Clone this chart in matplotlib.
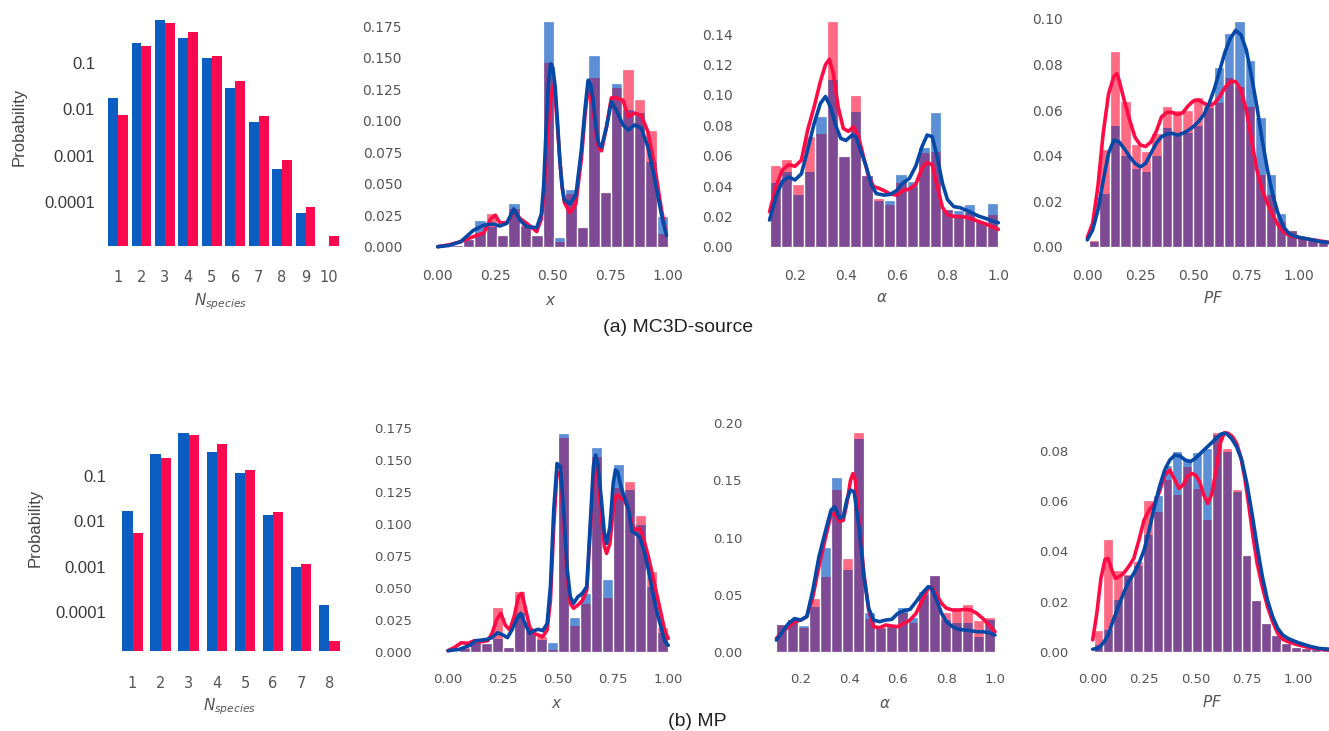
import numpy as np
import matplotlib
matplotlib.use("Agg")
import matplotlib.pyplot as plt
from matplotlib.ticker import NullLocator

nan = np.nan

# ---- N_species probabilities (log scale bars) ----
top_n = [1, 2, 3, 4, 5, 6, 7, 8, 9, 10]
top_n_blue = [0.0173, 0.275, 0.85, 0.342, 0.126, 0.0284, 0.0054, 0.00051, 5.7e-5, nan]
top_n_red = [0.0076, 0.236, 0.72, 0.474, 0.1415, 0.0415, 0.0072, 0.0008, 7.9e-5, 1.86e-5]

bot_n = [1, 2, 3, 4, 5, 6, 7, 8]
bot_n_blue = [0.0169, 0.306, 0.90, 0.344, 0.115, 0.0138, 0.0010, 0.00014]
bot_n_red = [0.0056, 0.254, 0.80, 0.51, 0.136, 0.016, 0.00112, 2.3e-5]

# ---- histograms ----
top_x_edges = np.linspace(0.01, 1.0, 21)
top_x_blue = [0, 0.001, 0.005, 0.021, 0.016, 0.009, 0.035, 0.016, 0.009, 0.179, 0.008, 0.046,
              0.016, 0.152, 0.0436, 0.130, 0.108, 0.106, 0.067, 0.024]
top_x_red = [0, 0.001, 0.006, 0.011, 0.027, 0.009, 0.030, 0.018, 0.009, 0.146, 0.004, 0.042,
             0.016, 0.134, 0.0436, 0.126, 0.141, 0.117, 0.0925, 0.010]

top_a_edges = np.linspace(0.1, 1.0, 21)
top_a_blue = [0.042, 0.049, 0.034, 0.049, 0.086, 0.110, 0.059, 0.089, 0.047, 0.030, 0.031, 0.048,
              0.043, 0.066, 0.0886, 0.025, 0.024, 0.028, 0.017, 0.0286]
top_a_red = [0.054, 0.0576, 0.041, 0.073, 0.074, 0.149, 0.060, 0.100, 0.047, 0.032, 0.0275, 0.042,
             0.0395, 0.0615, 0.0626, 0.024, 0.020, 0.022, 0.0154, 0.021]

top_pf_edges = np.linspace(0.008, 1.233, 26)
top_pf_blue = [0.002, 0.023, 0.053, 0.040, 0.034, 0.033, 0.040, 0.052, 0.049, 0.050, 0.053, 0.061,
               0.079, 0.094, 0.099, 0.082, 0.057, 0.032, 0.015, 0.0073, 0.0044, 0.003, 0.0022,
               0.002, 0.0015]
top_pf_red = [0.003, 0.043, 0.086, 0.064, 0.045, 0.042, 0.050, 0.062, 0.060, 0.060, 0.0656, 0.063,
              0.063, 0.074, 0.070, 0.0615, 0.0315, 0.0227, 0.011, 0.007, 0.0044, 0.003, 0.0022,
              0.002, 0.0015]

bot_x_edges = np.linspace(0.0, 1.0, 21)
bot_x_blue = [0, 0.002, 0.0065, 0.0065, 0.010, 0.004, 0.030, 0.017, 0.009, 0.0073, 0.1706, 0.0268,
              0.046, 0.160, 0.057, 0.147, 0.1263, 0.099, 0.0508, 0.0148]
bot_x_red = [0, 0.004, 0.009, 0.007, 0.0346, 0.004, 0.0477, 0.018, 0.012, 0.001, 0.1667, 0.020,
             0.037, 0.152, 0.0417, 0.1276, 0.1336, 0.1068, 0.0633, 0.0195]

bot_a_edges = np.linspace(0.1, 1.0, 21)
bot_a_blue = [0.024, 0.029, 0.0234, 0.039, 0.092, 0.153, 0.0715, 0.186, 0.0345, 0.022, 0.0225,
              0.0388, 0.0307, 0.053, 0.067, 0.0277, 0.0254, 0.0248, 0.013, 0.0277]
bot_a_red = [0.024, 0.028, 0.021, 0.0467, 0.0657, 0.1416, 0.0818, 0.192, 0.029, 0.022, 0.0225,
             0.0336, 0.0248, 0.050, 0.067, 0.035, 0.0365, 0.0418, 0.0277, 0.0307]

bot_pf_edges = np.linspace(0.004, 1.156, 25)
bot_pf_blue = [0.0027, 0.0086, 0.0206, 0.030, 0.034, 0.0465, 0.0625, 0.0744, 0.080, 0.077, 0.0797,
               0.081, 0.0864, 0.0797, 0.0638, 0.0385, 0.0206, 0.0113, 0.0066, 0.0033, 0.002,
               0.0013, 0.001, 0.0007]
bot_pf_red = [0.0086, 0.045, 0.0326, 0.031, 0.036, 0.0605, 0.0558, 0.0684, 0.0625, 0.0738, 0.0647,
              0.0525, 0.0877, 0.081, 0.065, 0.0385, 0.0206, 0.0113, 0.0066, 0.0033, 0.002,
              0.0013, 0.001, 0.0007]

# ---- KDE curves ----
top_x_kb_x = [0, 0.05, 0.1, 0.155, 0.2, 0.24, 0.27, 0.30, 0.33, 0.357, 0.386, 0.43, 0.45, 0.46, 0.47,
              0.48, 0.49, 0.50, 0.51, 0.52, 0.53, 0.54, 0.55, 0.574, 0.60, 0.624, 0.64, 0.653, 0.665,
              0.675, 0.69, 0.70, 0.711, 0.733, 0.754, 0.776, 0.805, 0.827, 0.855, 0.884, 0.913,
              0.942, 0.971, 0.993]
top_x_kb_y = [0, 0.001, 0.004, 0.013, 0.017, 0.018, 0.0164, 0.0185, 0.030, 0.021, 0.016, 0.015,
              0.026, 0.048, 0.09, 0.128, 0.145, 0.142, 0.127, 0.10, 0.069, 0.048, 0.037, 0.034,
              0.041, 0.077, 0.11, 0.132, 0.128, 0.116, 0.09, 0.081, 0.079, 0.095, 0.115, 0.108,
              0.0965, 0.0925, 0.0965, 0.094, 0.079, 0.054, 0.026, 0.009]
top_x_kr_x = [0, 0.05, 0.1, 0.155, 0.2, 0.23, 0.25, 0.27, 0.30, 0.33, 0.36, 0.39, 0.43, 0.45, 0.46,
              0.47, 0.48, 0.49, 0.50, 0.51, 0.52, 0.53, 0.54, 0.55, 0.574, 0.60, 0.624, 0.64, 0.653,
              0.665, 0.675, 0.69, 0.70, 0.711, 0.733, 0.754, 0.776, 0.805, 0.827, 0.855, 0.884,
              0.913, 0.942, 0.971, 0.993]
top_x_kr_y = [0, 0.0015, 0.004, 0.008, 0.011, 0.022, 0.025, 0.019, 0.019, 0.028, 0.022, 0.018,
              0.012, 0.022, 0.04, 0.07, 0.095, 0.115, 0.127, 0.12, 0.095, 0.07, 0.048, 0.035,
              0.027, 0.034, 0.07, 0.105, 0.125, 0.12, 0.11, 0.085, 0.078, 0.076, 0.095, 0.118,
              0.118, 0.116, 0.103, 0.106, 0.104, 0.091, 0.064, 0.030, 0.009]

top_a_kb_x = [0.1, 0.125, 0.15, 0.175, 0.2, 0.225, 0.25, 0.275, 0.3, 0.32, 0.34, 0.36, 0.38, 0.40,
              0.425, 0.44, 0.46, 0.48, 0.50, 0.52, 0.55, 0.575, 0.60, 0.625, 0.65, 0.675, 0.70,
              0.72, 0.74, 0.76, 0.78, 0.80, 0.825, 0.85, 0.875, 0.90, 0.925, 0.95, 0.975, 1.0]
top_a_kb_y = [0.0176, 0.033, 0.043, 0.046, 0.044, 0.048, 0.064, 0.081, 0.0945, 0.099, 0.092, 0.080,
              0.0714, 0.070, 0.0736, 0.0725, 0.0626, 0.053, 0.041, 0.035, 0.034, 0.0345, 0.037,
              0.042, 0.045, 0.053, 0.066, 0.0736, 0.0725, 0.059, 0.042, 0.031, 0.0264, 0.0257,
              0.024, 0.022, 0.020, 0.0187, 0.017, 0.0158]
top_a_kr_x = [0.1, 0.125, 0.15, 0.175, 0.2, 0.225, 0.25, 0.275, 0.3, 0.32, 0.335, 0.35, 0.37, 0.39,
              0.41, 0.43, 0.45, 0.47, 0.49, 0.51, 0.53, 0.55, 0.575, 0.60, 0.625, 0.65, 0.675,
              0.70, 0.72, 0.74, 0.76, 0.78, 0.80, 0.825, 0.85, 0.875, 0.90, 0.925, 0.95, 0.975, 1.0]
top_a_kr_y = [0.023, 0.0396, 0.0506, 0.054, 0.053, 0.057, 0.077, 0.092, 0.109, 0.12, 0.1235, 0.115,
              0.092, 0.078, 0.076, 0.079, 0.0725, 0.059, 0.046, 0.0396, 0.0385, 0.037, 0.0347,
              0.034, 0.037, 0.038, 0.041, 0.052, 0.0554, 0.054, 0.0396, 0.026, 0.021, 0.020,
              0.020, 0.0193, 0.018, 0.0165, 0.015, 0.0132, 0.0114]

top_pf_kb_x = [0, 0.025, 0.05, 0.075, 0.1, 0.125, 0.15, 0.175, 0.2, 0.225, 0.25, 0.275, 0.3, 0.325,
               0.35, 0.375, 0.4, 0.425, 0.45, 0.475, 0.5, 0.525, 0.55, 0.575, 0.6, 0.625, 0.65,
               0.675, 0.7, 0.725, 0.75, 0.775, 0.8, 0.825, 0.85, 0.875, 0.9, 0.925, 0.95, 0.975,
               1.0, 1.05, 1.1, 1.14]
top_pf_kb_y = [0.003, 0.0073, 0.016, 0.029, 0.041, 0.0468, 0.046, 0.043, 0.0395, 0.0366, 0.035,
               0.0366, 0.041, 0.0454, 0.0483, 0.0495, 0.0498, 0.049, 0.0498, 0.051, 0.0527, 0.055,
               0.058, 0.063, 0.0695, 0.0776, 0.0856, 0.0915, 0.095, 0.093, 0.0864, 0.0747, 0.0615,
               0.0468, 0.0337, 0.0227, 0.0146, 0.0088, 0.0059, 0.0047, 0.0041, 0.0032, 0.0022,
               0.0018]
top_pf_kr_x = [0, 0.025, 0.05, 0.075, 0.1, 0.125, 0.14, 0.15, 0.175, 0.2, 0.225, 0.25, 0.275, 0.3,
               0.325, 0.35, 0.375, 0.4, 0.425, 0.45, 0.475, 0.5, 0.525, 0.55, 0.575, 0.6, 0.625,
               0.65, 0.675, 0.7, 0.725, 0.75, 0.775, 0.8, 0.825, 0.85, 0.875, 0.9, 0.925, 0.95,
               0.975, 1.0, 1.05, 1.1, 1.14]
top_pf_kr_y = [0.0041, 0.0102, 0.0264, 0.0498, 0.067, 0.0747, 0.076, 0.073, 0.064, 0.0556, 0.048,
               0.0447, 0.044, 0.046, 0.0505, 0.057, 0.059, 0.059, 0.058, 0.0588, 0.0618, 0.064,
               0.0644, 0.063, 0.062, 0.063, 0.066, 0.070, 0.0725, 0.0725, 0.0688, 0.060, 0.0468,
               0.0337, 0.0249, 0.019, 0.0139, 0.0095, 0.0066, 0.0051, 0.0044, 0.004, 0.0032,
               0.0025, 0.0019]

bot_x_kb_x = [0, 0.05, 0.1, 0.125, 0.15, 0.175, 0.2, 0.225, 0.25, 0.27, 0.29, 0.31, 0.33, 0.35,
              0.37, 0.39, 0.41, 0.43, 0.45, 0.465, 0.48, 0.495, 0.51, 0.525, 0.54, 0.555, 0.57,
              0.59, 0.61, 0.63, 0.645, 0.66, 0.67, 0.68, 0.695, 0.71, 0.72, 0.735, 0.75, 0.76,
              0.77, 0.785, 0.80, 0.82, 0.835, 0.85, 0.87, 0.89, 0.91, 0.93, 0.95, 0.97, 0.985, 1.0]
bot_x_kb_y = [0.0008, 0.0018, 0.005, 0.0086, 0.009, 0.0096, 0.011, 0.0148, 0.013, 0.011, 0.017,
              0.0247, 0.030, 0.022, 0.0143, 0.0164, 0.0175, 0.0164, 0.022, 0.051, 0.111, 0.147,
              0.1445, 0.111, 0.0664, 0.043, 0.0378, 0.043, 0.0456, 0.051, 0.098, 0.1445, 0.1536,
              0.147, 0.121, 0.0924, 0.0846, 0.0977, 0.1315, 0.142, 0.1406, 0.129, 0.121, 0.111,
              0.094, 0.0924, 0.0898, 0.079, 0.0638, 0.0456, 0.030, 0.017, 0.0078, 0.005]
bot_x_kr_x = [0, 0.03, 0.06, 0.09, 0.12, 0.15, 0.18, 0.2, 0.22, 0.24, 0.26, 0.28, 0.30, 0.32,
              0.335, 0.35, 0.37, 0.39, 0.41, 0.43, 0.45, 0.465, 0.48, 0.495, 0.51, 0.525, 0.54,
              0.555, 0.57, 0.59, 0.61, 0.63, 0.645, 0.66, 0.67, 0.68, 0.695, 0.71, 0.72, 0.735,
              0.75, 0.76, 0.77, 0.785, 0.80, 0.82, 0.835, 0.85, 0.87, 0.89, 0.91, 0.93, 0.95,
              0.97, 0.985, 1.0]
bot_x_kr_y = [0.0008, 0.0034, 0.007, 0.0065, 0.0086, 0.0078, 0.0086, 0.0143, 0.0247, 0.030,
              0.0208, 0.017, 0.0273, 0.043, 0.0456, 0.035, 0.0195, 0.0143, 0.013, 0.0117, 0.017,
              0.040, 0.0977, 0.1406, 0.139, 0.103, 0.061, 0.0378, 0.0339, 0.0365, 0.040, 0.048,
              0.0924, 0.1367, 0.1445, 0.1367, 0.108, 0.082, 0.0768, 0.0846, 0.111, 0.121, 0.1224,
              0.1198, 0.1185, 0.111, 0.100, 0.095, 0.0963, 0.087, 0.074, 0.0586, 0.043, 0.0273,
              0.0156, 0.0104]

bot_a_kb_x = [0.1, 0.125, 0.15, 0.175, 0.2, 0.225, 0.25, 0.275, 0.3, 0.325, 0.34, 0.36, 0.375,
              0.39, 0.405, 0.42, 0.44, 0.46, 0.48, 0.5, 0.525, 0.55, 0.575, 0.6, 0.625, 0.65,
              0.675, 0.7, 0.725, 0.74, 0.76, 0.78, 0.8, 0.825, 0.85, 0.875, 0.9, 0.925, 0.95,
              0.975, 1.0]
bot_a_kb_y = [0.0102, 0.0175, 0.0248, 0.029, 0.0277, 0.0307, 0.054, 0.083, 0.104, 0.124, 0.127,
              0.117, 0.118, 0.133, 0.1416, 0.140, 0.1095, 0.0657, 0.038, 0.0277, 0.0263, 0.0277,
              0.0283, 0.0336, 0.0359, 0.037, 0.0438, 0.051, 0.057, 0.0555, 0.045, 0.0336, 0.0263,
              0.0219, 0.0196, 0.019, 0.0184, 0.0175, 0.0175, 0.0166, 0.0146]
bot_a_kr_x = [0.1, 0.125, 0.15, 0.175, 0.2, 0.225, 0.25, 0.275, 0.3, 0.325, 0.34, 0.36, 0.375,
              0.39, 0.405, 0.415, 0.425, 0.44, 0.46, 0.48, 0.5, 0.525, 0.55, 0.575, 0.6, 0.625,
              0.65, 0.675, 0.7, 0.725, 0.74, 0.76, 0.78, 0.8, 0.825, 0.85, 0.875, 0.9, 0.925,
              0.95, 0.975, 1.0]
bot_a_kr_y = [0.0117, 0.0175, 0.0219, 0.0263, 0.0277, 0.0307, 0.048, 0.0745, 0.098, 0.12, 0.121,
              0.114, 0.115, 0.130, 0.150, 0.156, 0.150, 0.115, 0.0686, 0.0365, 0.0219, 0.021,
              0.0234, 0.0225, 0.0219, 0.0248, 0.0277, 0.0336, 0.045, 0.0555, 0.0564, 0.0496,
              0.0423, 0.038, 0.0365, 0.0365, 0.037, 0.0365, 0.0336, 0.029, 0.0234, 0.0175]

bot_pf_kb_x = [0, 0.025, 0.05, 0.075, 0.1, 0.125, 0.15, 0.175, 0.2, 0.225, 0.25, 0.275, 0.3,
               0.325, 0.35, 0.375, 0.4, 0.425, 0.45, 0.475, 0.5, 0.525, 0.55, 0.575, 0.6, 0.625,
               0.65, 0.675, 0.7, 0.725, 0.75, 0.775, 0.8, 0.825, 0.85, 0.875, 0.9, 0.925, 0.95,
               0.975, 1.0, 1.05, 1.1, 1.15]
bot_pf_kb_y = [0.001, 0.0013, 0.0033, 0.0066, 0.0126, 0.018, 0.0233, 0.028, 0.0312, 0.0352,
               0.0405, 0.0485, 0.0578, 0.0658, 0.0724, 0.0764, 0.0784, 0.078, 0.0764, 0.0758,
               0.0771, 0.0791, 0.0811, 0.083, 0.085, 0.0868, 0.087, 0.085, 0.0817, 0.0764, 0.067,
               0.055, 0.0419, 0.030, 0.0206, 0.014, 0.0093, 0.0066, 0.0053, 0.0044, 0.0036,
               0.0023, 0.0013, 0.001]
bot_pf_kr_x = [0, 0.02, 0.04, 0.06, 0.075, 0.09, 0.11, 0.13, 0.15, 0.175, 0.2, 0.225, 0.25,
               0.275, 0.3, 0.325, 0.35, 0.375, 0.4, 0.42, 0.44, 0.46, 0.48, 0.5, 0.52, 0.54, 0.56,
               0.58, 0.6, 0.62, 0.64, 0.66, 0.68, 0.7, 0.72, 0.74, 0.76, 0.78, 0.8, 0.825, 0.85,
               0.875, 0.9, 0.925, 0.95, 0.975, 1.0, 1.05, 1.1, 1.15]
bot_pf_kr_y = [0.0047, 0.0153, 0.0292, 0.0368, 0.0372, 0.0332, 0.0292, 0.030, 0.0312, 0.0339,
               0.0372, 0.0445, 0.0525, 0.0565, 0.0591, 0.0638, 0.0704, 0.0724, 0.0684, 0.0651,
               0.0665, 0.0698, 0.0711, 0.0704, 0.0678, 0.0625, 0.0591, 0.0631, 0.0724, 0.083,
               0.0873, 0.087, 0.0857, 0.083, 0.0777, 0.0691, 0.0578, 0.0458, 0.0352, 0.0259,
               0.018, 0.012, 0.0073, 0.0049, 0.004, 0.0033, 0.0027, 0.0017, 0.0011, 0.0007]

# ---- styling ----
W, H = 1329, 731
BAR_BLUE, BAR_RED = "#0b5dc1", "#fe0850"
H_BLUE, H_RED, H_MIX = "#5c8fd6", "#ff6a84", "#7e4a93"
K_BLUE, K_RED = "#0648a6", "#ff0b46"
TICK = "#555555"

fig = plt.figure(figsize=(W / 100, H / 100), dpi=100)


def axes_px(l, t, r, b):
    ax = fig.add_axes([l / W, 1 - b / H, (r - l) / W, (b - t) / H])
    for s in ax.spines.values():
        s.set_visible(False)
    ax.set_facecolor("none")
    return ax


def set_lims(ax, box, xmap, ymap, logy=False):
    l, t, r, b = box
    (xa, pa), (xb, pb) = xmap
    k = (pb - pa) / (xb - xa)
    ax.set_xlim(xa + (l - pa) / k, xa + (r - pa) / k)
    (ya, qa), (yb, qb) = ymap
    if logy:
        ya, yb = np.log10(ya), np.log10(yb)
    k = (qa - qb) / (yb - ya)
    y0, y1 = ya - (b - qa) / k, ya + (qa - t) / k
    if logy:
        y0, y1 = 10 ** y0, 10 ** y1
    ax.set_ylim(y0, y1)


def label_at(ax, text, x, y, axis="x", **kw):
    lab = ax.set_xlabel(text, **kw) if axis == "x" else ax.set_ylabel(text, **kw)
    getattr(ax, axis + "axis").set_label_coords(x / W, 1 - y / H, transform=fig.transFigure)
    lab.set_verticalalignment("center")
    lab.set_horizontalalignment("center")


def nspecies_panel(box, xmap, ymap, n, blue, red, w, tick_pad, ylab_xy, xlab_xy):
    ax = axes_px(*box)
    n = np.asarray(n, float)
    ax.bar(n - w / 2, blue, width=w, color=BAR_BLUE, log=True)
    ax.bar(n + w / 2, red, width=w, color=BAR_RED, log=True)
    set_lims(ax, box, xmap, ymap, logy=True)
    ax.yaxis.set_minor_locator(NullLocator())
    ax.set_yticks([0.1, 0.01, 0.001, 0.0001], ["0.1", "0.01", "0.001", "0.0001"],
                  fontfamily="Liberation Sans", fontsize=12, color="#3a3a3a")
    ax.set_xticks(n, [str(int(v)) for v in n], fontsize=10.5, color=TICK)
    ax.tick_params(axis="y", length=0, pad=3.6)
    ax.tick_params(axis="x", length=0, pad=tick_pad)
    label_at(ax, "Probability", *ylab_xy, axis="y", fontfamily="Liberation Sans",
             fontsize=12, color="#444444")
    label_at(ax, "$N_{species}$", *xlab_xy, fontsize=11, color=TICK)
    return ax


def hist_panel(box, xmap, ymap, edges, blue, red, kb, kr, xt, xfmt, yt, yfmt, xlab, xlab_xy, fs=10):
    ax = axes_px(*box)
    edges = np.asarray(edges)
    left, w = edges[:-1], np.diff(edges)
    blue, red = np.asarray(blue), np.asarray(red)
    ax.bar(left, blue, width=w, align="edge", color=H_BLUE, linewidth=0)
    ax.bar(left, red, width=w, align="edge", color=H_RED, linewidth=0)
    ax.bar(left, np.minimum(blue, red), width=w, align="edge", color=H_MIX, linewidth=0)
    ax.bar(left, np.maximum(blue, red), width=w, align="edge", facecolor="none",
           edgecolor="white", linewidth=0.9)
    ax.plot(kr[0], kr[1], color=K_RED, lw=2.6, solid_joinstyle="round", solid_capstyle="round")
    ax.plot(kb[0], kb[1], color=K_BLUE, lw=2.6, solid_joinstyle="round", solid_capstyle="round")
    set_lims(ax, box, xmap, ymap)
    ax.set_xticks(xt, [xfmt % v for v in xt])
    ax.set_yticks(yt, [yfmt % v for v in yt])
    ax.tick_params(length=0, labelsize=fs, labelcolor=TICK, pad=3.6)
    label_at(ax, xlab, *xlab_xy, fontsize=11, color=TICK)
    return ax


# (a) MC3D-source
nspecies_panel((100, 12, 342, 246), ((1, 118), (10, 329)), ((0.1, 63), (0.0001, 202)),
               top_n, top_n_blue, top_n_red, 0.42, 17, (19, 127), (221, 302))
hist_panel((407, 15, 672, 264), ((0, 437.7), (1, 668)), ((0, 246.7), (0.175, 26)),
           top_x_edges, top_x_blue, top_x_red, (top_x_kb_x, top_x_kb_y), (top_x_kr_x, top_x_kr_y),
           [0, 0.25, 0.5, 0.75, 1.0], "%.2f", np.arange(0, 0.176, 0.025), "%.3f",
           "$x$", (551, 300))
hist_panel((738, 15, 1003, 264), ((0.2, 795), (1.0, 998.3)), ((0, 246.7), (0.14, 34.3)),
           top_a_edges, top_a_blue, top_a_red, (top_a_kb_x, top_a_kb_y), (top_a_kr_x, top_a_kr_y),
           [0.2, 0.4, 0.6, 0.8, 1.0], "%.1f", np.arange(0, 0.141, 0.02), "%.2f",
           r"$\alpha$", (882, 298))
hist_panel((1068, 12, 1329, 264), ((0, 1087.3), (1, 1299.3)), ((0, 246.7), (0.1, 19)),
           top_pf_edges, top_pf_blue, top_pf_red, (top_pf_kb_x, top_pf_kb_y),
           (top_pf_kr_x, top_pf_kr_y),
           [0, 0.25, 0.5, 0.75, 1.0], "%.2f", np.arange(0, 0.101, 0.02), "%.2f",
           "$PF$", (1213, 298))

# (b) MP
nspecies_panel((111, 415, 345, 651), ((1, 132.5), (8, 329.3)), ((0.1, 476), (0.0001, 612)),
               bot_n, bot_n_blue, bot_n_red, 0.365, 18, (35, 528), (230, 707))
hist_panel((417, 420, 672, 668), ((0, 448), (1, 668.3)), ((0, 651.7), (0.175, 427.7)),
           bot_x_edges, bot_x_blue, bot_x_red, (bot_x_kb_x, bot_x_kb_y), (bot_x_kr_x, bot_x_kr_y),
           [0, 0.25, 0.5, 0.75, 1.0], "%.2f", np.arange(0, 0.176, 0.025), "%.3f",
           "$x$", (557, 703), fs=9.5)
hist_panel((747, 415, 1000, 668), ((0.2, 800.7), (1.0, 995)), ((0, 651.7), (0.2, 423.3)),
           bot_a_edges, bot_a_blue, bot_a_red, (bot_a_kb_x, bot_a_kb_y), (bot_a_kr_x, bot_a_kr_y),
           [0.2, 0.4, 0.6, 0.8, 1.0], "%.1f", np.arange(0, 0.201, 0.05), "%.2f",
           r"$\alpha$", (885, 703), fs=9.5)
hist_panel((1073, 425, 1329, 668), ((0, 1092.7), (1, 1298.3)), ((0, 651.7), (0.08, 451)),
           bot_pf_edges, bot_pf_blue, bot_pf_red, (bot_pf_kb_x, bot_pf_kb_y),
           (bot_pf_kr_x, bot_pf_kr_y),
           [0, 0.25, 0.5, 0.75, 1.0], "%.2f", np.arange(0, 0.081, 0.02), "%.2f",
           "$PF$", (1212, 702), fs=9.5)

fig.text(678 / W, 1 - 327 / H, "(a) MC3D-source", ha="center", va="center",
         fontfamily="Liberation Sans", fontsize=14, color="#222222")
fig.text(697 / W, 1 - 721 / H, "(b) MP", ha="center", va="center",
         fontfamily="Liberation Sans", fontsize=14, color="#222222")

fig.savefig("out.png", dpi=100, facecolor="white")
